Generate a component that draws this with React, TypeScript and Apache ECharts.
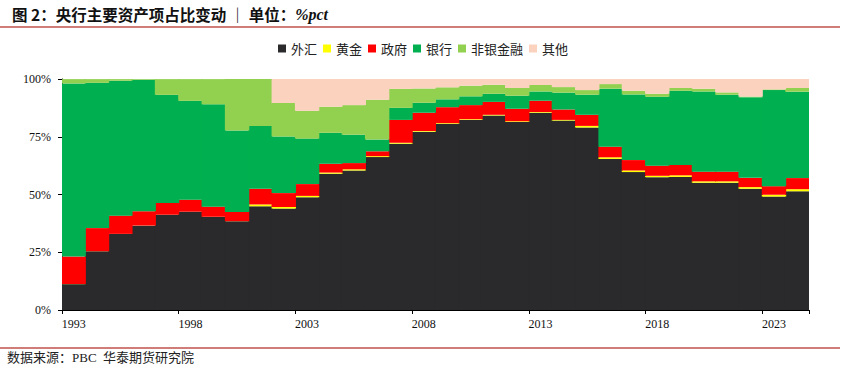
import React, { useEffect, useRef } from "react";
import * as echarts from "echarts";

const years = [
  "1993", "1994", "1995", "1996", "1997", "1998", "1999", "2000", "2001", "2002",
  "2003", "2004", "2005", "2006", "2007", "2008", "2009", "2010", "2011", "2012",
  "2013", "2014", "2015", "2016", "2017", "2018", "2019", "2020", "2021", "2022",
  "2023", "2024",
];

const foreignExchange = [
  11.2, 25.4, 32.9, 36.5, 41.2, 42.5, 40.3, 38.4, 44.9, 43.9,
  48.8, 59.0, 60.4, 66.2, 72.0, 77.2, 80.6, 82.3, 84.2, 81.4,
  85.4, 82.0, 79.0, 65.4, 59.7, 57.5, 57.6, 55.1, 55.1, 52.5,
  49.1, 51.4,
];
const gold = [
  0.05, 0.05, 0.05, 0.05, 0.05, 0.05, 0.05, 0.05, 0.8, 0.7,
  0.6, 0.5, 0.5, 0.4, 0.4, 0.3, 0.3, 0.3, 0.3, 0.3,
  0.3, 0.3, 0.7, 0.7, 0.7, 0.6, 0.7, 0.6, 0.6, 0.7,
  0.8, 0.9,
];
const government = [
  11.9, 10.0, 7.9, 6.2, 5.1, 5.2, 4.4, 4.0, 6.8, 6.0,
  5.1, 3.8, 2.7, 2.1, 9.9, 7.9, 6.9, 6.1, 5.6, 5.4,
  4.9, 4.5, 4.8, 4.6, 4.5, 4.4, 4.5, 4.2, 4.2, 4.0,
  3.7, 4.8,
];
const banks = [
  74.9, 62.9, 58.4, 56.9, 46.8, 42.8, 44.3, 35.3, 27.2, 24.5,
  19.7, 13.4, 12.3, 5.1, 5.2, 4.3, 3.4, 3.8, 3.5, 5.7,
  4.0, 7.3, 8.7, 25.1, 28.4, 29.8, 32.1, 34.7, 33.3, 34.9,
  41.6, 37.4,
];
const nonBanks = [
  1.9, 1.6, 0.7, 0.3, 6.8, 9.4, 10.9, 22.2, 20.3, 14.5,
  12.0, 11.3, 12.8, 17.2, 8.2, 6.2, 5.2, 4.6, 3.9, 3.3,
  2.8, 2.4, 2.0, 2.0, 1.6, 1.3, 1.2, 1.2, 1.0, 0.3,
  0.3, 1.6,
];
const others = [
  0, 0, 0, 0, 0, 0, 0, 0, 0, 10.4,
  13.8, 12.0, 11.3, 9.0, 4.3, 4.1, 3.6, 2.9, 2.5, 3.9,
  2.6, 3.5, 4.8, 2.2, 5.1, 6.4, 3.9, 4.2, 5.8, 7.6,
  4.5, 3.9,
];

const seriesNames = ["外汇", "黄金", "政府", "银行", "非银金融", "其他"];
const seriesData = [foreignExchange, gold, government, banks, nonBanks, others];
const seriesColors = ["#2a2a2c", "#ffff00", "#ff0000", "#00b050", "#92d050", "#fad2be"];
const yTicks = [0, 25, 50, 75, 100];

export default function App() {
  const ref = useRef<HTMLDivElement>(null);

  useEffect(() => {
    if (!ref.current) return;
    const chart = echarts.init(ref.current, null, { renderer: "svg" });
    const serif = "'Liberation Serif', 'Times New Roman', 'Noto Sans CJK SC', serif";
    chart.setOption({
      animation: false,
      backgroundColor: "#ffffff",
      title: {
        left: 7,
        top: 1,
        text: "{a|图 2：央行主要资产项占比变动 ｜ 单位：}{b|%pct}",
        textStyle: {
          rich: {
            a: {
              fontFamily: "'Noto Sans CJK SC', sans-serif",
              fontWeight: "bold",
              fontSize: 15.5,
              color: "#111",
            },
            b: {
              fontFamily: serif,
              fontWeight: "bold",
              fontStyle: "italic",
              fontSize: 16,
              color: "#111",
            },
          },
        },
      },
      legend: {
        top: 37,
        left: "center",
        itemWidth: 8,
        itemHeight: 8,
        itemGap: 6,
        icon: "rect",
        textStyle: {
          fontFamily: "'Noto Sans CJK SC', sans-serif",
          fontSize: 13,
          color: "#222",
        },
        data: seriesNames,
      },
      grid: {
        left: 62,
        right: 37,
        top: 79,
        bottom: 68,
        containLabel: false,
      },
      xAxis: {
        type: "category",
        data: years,
        boundaryGap: true,
        axisLine: { lineStyle: { color: "#000", width: 1 } },
        axisTick: { show: true, interval: 4, length: 4, lineStyle: { color: "#000" } },
        axisLabel: {
          interval: 4,
          margin: 8,
          fontFamily: serif,
          fontSize: 12,
          color: "#111",
        },
      },
      yAxis: {
        type: "value",
        min: 0,
        max: 100,
        interval: 25,
        axisLine: { show: true, lineStyle: { color: "#000", width: 1 } },
        axisTick: { show: true, length: 4, lineStyle: { color: "#000" } },
        splitLine: { show: false },
        axisLabel: {
          margin: 11,
          fontFamily: serif,
          fontSize: 12,
          color: "#111",
          formatter: (v: number) => (yTicks.includes(v) ? v + "%" : ""),
        },
      },
      series: seriesNames.map((name, i) => ({
        name,
        type: "bar",
        stack: "total",
        barWidth: 24.4,
        barGap: "0%",
        itemStyle: { color: seriesColors[i] },
        emphasis: { disabled: true },
        data: seriesData[i],
      })),
      graphic: [
        {
          type: "line",
          shape: { x1: 0, y1: 27, x2: 840, y2: 27 },
          style: { stroke: "#c0504d", lineWidth: 1.5 },
        },
        {
          type: "line",
          shape: { x1: 0, y1: 348, x2: 840, y2: 348 },
          style: { stroke: "#c0504d", lineWidth: 1.5 },
        },
        {
          type: "text",
          left: 7,
          top: 351,
          style: {
            text: "数据来源：PBC  华泰期货研究院",
            font: "13px 'Liberation Serif', 'Noto Sans CJK SC', serif",
            fill: "#222",
          },
        },
      ],
    });
    return () => chart.dispose();
  }, []);

  return (
    <div
      ref={ref}
      style={{ position: "fixed", left: 0, top: 0, width: 846, height: 378 }}
    />
  );
}
